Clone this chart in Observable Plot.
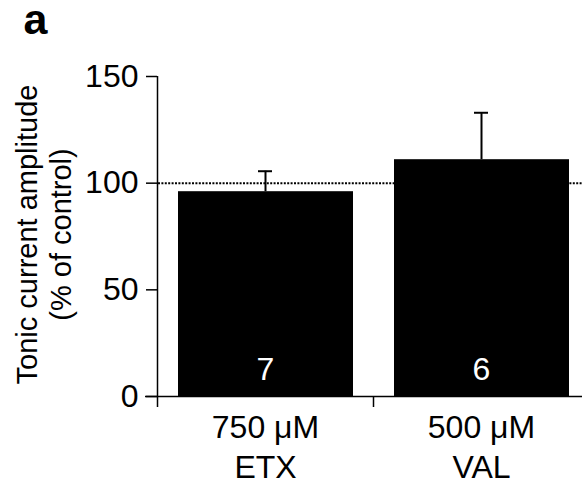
<!DOCTYPE html>
<html>
<head>
<meta charset="utf-8">
<script src="https://cdn.jsdelivr.net/npm/d3@7"></script>
<script src="https://cdn.jsdelivr.net/npm/@observablehq/plot@0.6"></script>
<style>
  html, body { margin: 0; padding: 0; background: #fff; }
  #chart svg { display: block; }
</style>
</head>
<body>
<div id="chart"></div>
<script>
// Data
const categories = ["750 μM\nETX", "500 μM\nVAL"];
const values = [96, 111];
const errors = [9.6, 22];
const counts = ["7", "6"];
const yTicks = [0, 50, 100, 150];
const controlLevel = 100;
const panelLabel = "a";
const yLabel = "Tonic current amplitude\n(% of control)";

const data = categories.map((c, i) => ({
  cat: c, idx: i, value: values[i], err: errors[i], n: counts[i]
}));

const font = "'Liberation Sans', Arial, Helvetica, sans-serif";

const chart = Plot.plot({
  width: 582,
  height: 484,
  marginLeft: 157,
  marginRight: -7,
  marginTop: 76,
  marginBottom: 88,
  style: { fontFamily: font, fontSize: "32px", color: "#000", background: "#fff", overflow: "hidden" },
  x: { domain: [0, categories.length], axis: null },
  y: { domain: [0, 150], axis: null },
  marks: [
    // dotted control line
    Plot.ruleY([controlLevel], { stroke: "#000", strokeWidth: 2, strokeDasharray: "2,1.4", insetLeft: 1 }),
    // bars
    Plot.rectY(data, { x1: d => d.idx, x2: d => d.idx + 1, y1: 0, y2: "value", fill: "#000", insetLeft: 21, insetRight: 20 }),
    // error bars
    Plot.ruleX(data, { x: d => d.idx + 0.5, y1: "value", y2: d => d.value + d.err, stroke: "#000", strokeWidth: 2 }),
    Plot.ruleY(data, { y: d => d.value + d.err, x1: d => d.idx + 0.5, x2: d => d.idx + 0.5, insetLeft: -7, insetRight: -7, stroke: "#000", strokeWidth: 2 }),
    // axis lines
    Plot.ruleX([0], { stroke: "#000", strokeWidth: 1.5, insetBottom: -11 }),
    Plot.ruleY([0], { stroke: "#000", strokeWidth: 1.5, insetLeft: -12 }),
    Plot.axisY({ ticks: yTicks, tickSize: 11, tickPadding: 8, label: null, stroke: "#000", strokeWidth: 1.5, fontSize: 32 }),
    Plot.axisX({ ticks: [1], tickSize: 11, tickFormat: () => "", label: null, stroke: "#000", strokeWidth: 1.5 }),
    // category labels
    Plot.text(data, { x: d => d.idx + 0.5, y: 0, text: "cat", lineAnchor: "bottom", dy: 81, lineHeight: 1.25, fontSize: 32, fill: "#000" }),
    // n labels
    Plot.text(data, { x: d => d.idx + 0.5, y: 0, text: "n", lineAnchor: "bottom", dy: -17, fontSize: 32, fill: "#fff" }),
    // y label
    Plot.text([yLabel], { frameAnchor: "left", textAnchor: "middle", rotate: -90, lineAnchor: "bottom", dx: -87, dy: -2, lineHeight: 1.17, fontSize: 29, fill: "#000" }),
    // panel label
    Plot.text([panelLabel], { frameAnchor: "top-left", textAnchor: "start", lineAnchor: "bottom", dx: -134, dy: -43, fontSize: 43, fontWeight: "bold", fill: "#000" })
  ]
});

document.getElementById("chart").appendChild(chart);
</script>
</body>
</html>
